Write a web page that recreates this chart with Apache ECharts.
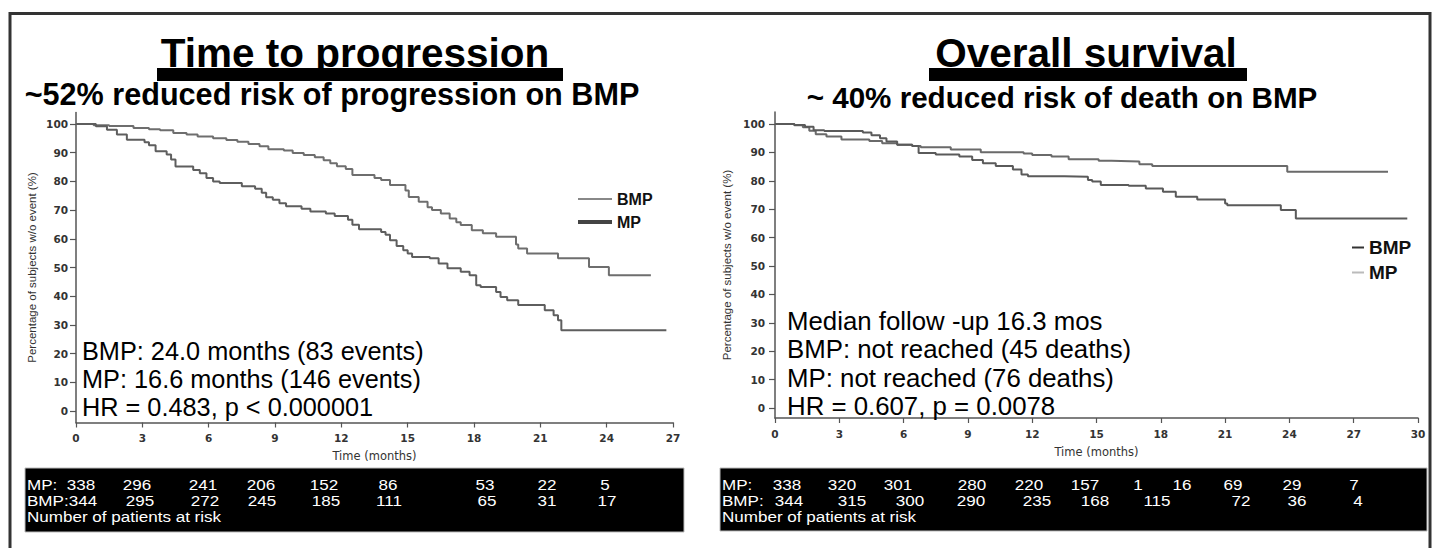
<!DOCTYPE html>
<html><head><meta charset="utf-8">
<script src="https://cdn.jsdelivr.net/npm/echarts@6/dist/echarts.min.js"></script>
<style>html,body{margin:0;padding:0;background:#fff}#c{width:1435px;height:548px}</style>
</head><body><div id="c"></div>
<script>
// ---------- DATA ----------
// Time to progression (months, % without event) – Kaplan-Meier steps
const ttpBMP = [[0,100],[0.8,99.6],[1.5,99.3],[2.6,98.6],[3.3,98.2],[3.8,97.8],[4.4,96.9],[5.0,96.3],[5.5,95.6],[6.2,95.0],[6.8,94.4],[7.3,93.8],[7.8,93.0],[8.3,92.2],[8.7,91.2],[9.4,90.8],[9.8,89.9],[10.3,89.2],[10.8,88.4],[11.2,87.4],[11.5,86.3],[11.8,85.3],[12.2,84.3],[12.5,82.2],[13.5,81.2],[13.8,80.5],[14.2,78.7],[14.9,76.8],[15.05,74.6],[15.5,72.9],[15.9,71.0],[16.1,70.0],[16.5,68.8],[16.9,67.1],[17.2,65.8],[17.4,64.8],[17.9,63.0],[18.4,61.9],[19.0,60.7],[19.9,58.0],[20.0,56.6],[20.4,54.9],[21.8,53.2],[23.2,50.2],[24.1,47.3],[26.0,47.3]];
const ttpMP = [[0,100],[0.9,99.2],[1.4,98.0],[1.85,96.3],[2.3,94.5],[3.1,93.6],[3.3,92.6],[3.6,90.5],[4.1,89.4],[4.3,87.6],[4.5,85.2],[5.3,84.0],[5.6,82.8],[5.9,81.2],[6.2,80.0],[6.5,79.4],[7.5,78.3],[8.1,77.4],[8.4,76.0],[8.6,74.5],[8.9,73.6],[9.2,72.4],[9.5,71.3],[10.2,70.5],[10.6,69.5],[11.3,68.8],[11.7,67.9],[12.3,66.6],[12.5,64.9],[12.8,63.3],[13.8,62.4],[14.0,61.4],[14.2,59.5],[14.5,57.5],[14.8,56.0],[15.0,54.9],[15.2,53.7],[16.0,53.2],[16.4,51.4],[16.8,49.7],[17.4,48.5],[17.8,47.3],[18.1,43.8],[18.3,43.2],[19.0,41.5],[19.2,39.7],[19.5,38.6],[20.0,36.9],[21.2,35.1],[21.6,33.4],[21.8,31.6],[21.95,28.1],[26.7,28.1]];
// Overall survival
const osBMP = [[0,100],[0.9,99.5],[1.3,98.8],[1.6,97.6],[1.9,96.4],[2.4,95.6],[3.1,94.5],[4.4,94.0],[5.0,93.2],[5.7,92.7],[6.4,92.2],[6.8,91.8],[8.2,91.0],[9.6,90.0],[11.6,89.6],[12.0,89.1],[12.9,88.5],[13.7,87.6],[15.1,87.0],[15.7,86.8],[17.0,85.8],[17.6,85.2],[23.9,83.2],[28.6,83.2]];
const osMP = [[0,100],[0.9,99.6],[1.4,99.0],[1.8,97.8],[2.3,97.5],[4.1,97.0],[4.5,96.0],[4.9,95.0],[5.2,93.8],[5.7,92.7],[6.4,92.2],[6.7,89.8],[7.5,89.2],[8.6,88.5],[9.2,87.3],[9.7,86.2],[10.3,85.2],[11.1,84.0],[11.5,82.2],[11.8,81.6],[13.5,81.4],[14.6,80.3],[14.8,79.7],[15.2,78.5],[16.5,78.2],[17.3,77.3],[18.1,76.1],[18.7,74.4],[19.7,73.4],[21.0,72.0],[21.1,71.4],[23.6,69.7],[24.3,66.7],[29.5,66.7]];
// Numbers at risk
const ttpRiskMP  = ['338','296','241','206','152','86','53','22','5'];
const ttpRiskBMP = ['344','295','272','245','185','111','65','31','17'];
const osRiskMP   = ['338','320','301','280','220','157','1','16','69','29','7'];
const osRiskBMP  = ['344','315','300','290','235','168','115','72','36','4'];
// Texts
const ttpTitle = 'Time to progression';
const ttpSub = '~52% reduced risk of progression on BMP';
const osTitle = 'Overall survival';
const osSub = '~ 40% reduced risk of death on BMP';
const ttpNotes = ['BMP: 24.0 months (83 events)','MP: 16.6 months (146 events)','HR = 0.483, p < 0.000001'];
const osNotes = ['Median follow -up 16.3 mos','BMP: not reached (45 deaths)','MP: not reached (76 deaths)','HR = 0.607, p = 0.0078'];
const yName = 'Percentage of subjects w/o event (%)';
const xName = 'Time (months)';
const riskCaption = 'Number of patients at risk';

// ---------- LAYOUT ----------
const F = '"Liberation Sans", Arial, sans-serif';
const TF = '"DejaVu Sans", sans-serif';
const ttpRiskMPx  = [81,137,203,261,324,388,485,547,605];
const ttpRiskBMPx = [83,140,205,262,326,389,487,547,607];
const osRiskMPx   = [787,842,898,972,1029,1085,1138,1182,1233,1292,1354];
const osRiskBMPx  = [789,852,910,971,1037,1095,1157,1241,1297,1358];

function txt(text, x, y, o) {
  return {type:'text', x:x, y:y, scaleX:o.sx||1, z:100, silent:true,
    style:{text:text, fill:o.fill||'#000', fontSize:o.size, fontWeight:o.weight||'normal',
      fontFamily:o.family||F, textAlign:o.align||'left', align:o.align||'left',
      textVerticalAlign:'middle', verticalAlign:'middle'}};
}
const g = [];
g.push({type:'rect', z:1, silent:true, shape:{x:10,y:13.5,width:1420,height:570}, style:{fill:'none',stroke:'#333',lineWidth:3}});
// titles
g.push(txt(ttpTitle, 355, 53, {size:40.5, weight:'bold', align:'center'}));
g.push({type:'rect', z:99, silent:true, shape:{x:157,y:68,width:406,height:13}, style:{fill:'#000'}});
g.push(txt(ttpSub, 332, 94, {size:30.6, weight:'bold', align:'center'}));
g.push(txt(osTitle, 1086, 53, {size:40.5, weight:'bold', align:'center'}));
g.push({type:'rect', z:99, silent:true, shape:{x:929,y:68,width:318,height:13}, style:{fill:'#000'}});
g.push(txt(osSub, 1062, 97.5, {size:29.6, weight:'bold', align:'center'}));
// notes
ttpNotes.forEach((t,i)=>g.push(txt(t, 82, 351 + i*28, {size:25.3})));
osNotes.forEach((t,i)=>g.push(txt(t, 787, 321 + i*28.3, {size:25.8})));
// risk tables
g.push({type:'rect', z:90, silent:true, shape:{x:25,y:468,width:659,height:64}, style:{fill:'#000',stroke:'#bbb',lineWidth:1}});
g.push({type:'rect', z:90, silent:true, shape:{x:720,y:468,width:707,height:63}, style:{fill:'#000',stroke:'#bbb',lineWidth:1}});
const W = {size:15.5, fill:'#fff', sx:1.1};
g.push(txt('MP:', 27, 484, W)); g.push(txt('BMP:', 27, 500, W)); g.push(txt(riskCaption, 27, 516, W));
g.push(txt('MP:', 722, 484, W)); g.push(txt('BMP:', 722, 500, W)); g.push(txt(riskCaption, 722, 516, W));
const C = {size:15.5, fill:'#fff', align:'center', sx:1.1};
ttpRiskMP.forEach((v,i)=>g.push(txt(v, ttpRiskMPx[i], 484, C)));
ttpRiskBMP.forEach((v,i)=>g.push(txt(v, ttpRiskBMPx[i], 500, C)));
osRiskMP.forEach((v,i)=>g.push(txt(v, osRiskMPx[i], 484, C)));
osRiskBMP.forEach((v,i)=>g.push(txt(v, osRiskBMPx[i], 500, C)));

const axisCol = '#555';
function xAx(grid, max, gap) {
  return {gridIndex:grid, type:'value', min:0, max:max, interval:3,
    axisLine:{show:true, onZero:false, lineStyle:{color:axisCol, width:1.5}},
    axisTick:{show:true, length:5, lineStyle:{color:axisCol, width:1.2}},
    axisLabel:{margin:10, fontFamily:TF, fontWeight:'bold', fontSize:10.5, color:'#333'},
    splitLine:{show:false},
    name:xName, nameLocation:'middle', nameGap:gap,
    nameTextStyle:{fontFamily:TF, fontSize:11.5, color:'#333'}};
}
function hidX(grid, max){ return {gridIndex:grid, type:'value', min:0, max:max, show:false}; }
function yLine(grid, min, max, gap) {
  return {gridIndex:grid, type:'value', min:min, max:max,
    axisLine:{show:true, lineStyle:{color:axisCol, width:1.5}},
    axisTick:{show:false}, axisLabel:{show:false}, splitLine:{show:false},
    name:yName, nameLocation:'middle', nameGap:gap, nameRotate:90,
    nameTextStyle:{fontFamily:F, fontSize:11.5, color:'#333'}};
}
function yTicks(grid, margin) {
  return {gridIndex:grid, type:'value', min:0, max:100, interval:10,
    axisLine:{show:false}, axisTick:{show:true, length:6, lineStyle:{color:axisCol, width:1.2}},
    axisLabel:{margin:margin, fontFamily:TF, fontWeight:'bold', fontSize:10.5, color:'#333'},
    splitLine:{show:false}};
}
function km(name, data, xi, color, width) {
  return {type:'line', name:name, xAxisIndex:xi, yAxisIndex:xi, data:data, step:'end',
    symbol:'none', showSymbol:false, lineStyle:{color:color, width:width}, itemStyle:{color:color}, z:3};
}
const hiddenSymbol = {color:'rgba(0,0,0,0)', borderColor:'rgba(0,0,0,0)', borderWidth:0, opacity:0};

const option = {
  animation:false,
  backgroundColor:'#fff',
  grid:[
    {left:76, top:112.5, width:597, height:310},
    {left:76, top:124, width:597, height:287},
    {left:775, top:112, width:643, height:306},
    {left:775, top:124, width:643, height:284}
  ],
  xAxis:[xAx(0,27,27), hidX(1,27), xAx(2,30,28), hidX(3,30)],
  yAxis:[yLine(0,-4,104,38), yTicks(1,8), yLine(2,-3.5,104.2,42), yTicks(3,10)],
  legend:[
    {left:571, top:186, orient:'vertical', itemWidth:34, itemHeight:14, itemGap:7, selectedMode:false,
     itemStyle:hiddenSymbol,
     data:[{name:'BMP', lineStyle:{color:'#888', width:2}}, {name:'MP', lineStyle:{color:'#444', width:4}}],
     textStyle:{fontFamily:F, fontWeight:'bold', fontSize:16, color:'#111'}},
    {left:1346, top:233, orient:'vertical', itemWidth:12, itemHeight:16, itemGap:6, selectedMode:false,
     itemStyle:hiddenSymbol,
     data:[{name:'BMP ', lineStyle:{color:'#333', width:2}}, {name:'MP ', lineStyle:{color:'#bbb', width:2}}],
     textStyle:{fontFamily:F, fontWeight:'bold', fontSize:19, color:'#111'}}
  ],
  series:[
    km('BMP', ttpBMP, 0, '#6e6e6e', 2),
    km('MP', ttpMP, 0, '#5e5e5e', 2),
    km('BMP ', osBMP, 2, '#6a6a6a', 2),
    km('MP ', osMP, 2, '#5a5a5a', 2)
  ],
  graphic:g
};
const chart = echarts.init(document.getElementById('c'), null, {renderer:'svg'});
chart.setOption(option);
</script>
</body></html>
